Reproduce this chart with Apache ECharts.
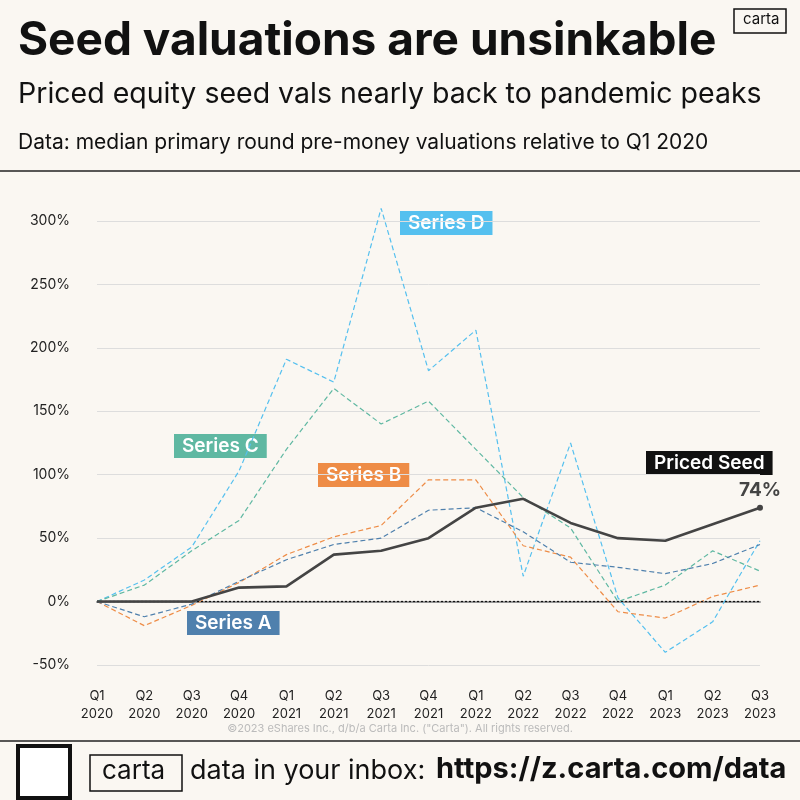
<!DOCTYPE html>
<html><head><meta charset="utf-8">
<script src="https://cdn.jsdelivr.net/npm/echarts@6/dist/echarts.min.js"></script>
<style>body{margin:0;background:#faf7f2}#c{width:800px;height:800px}</style></head>
<body><div id="c"></div>
<script>
const categories = ['Q1\n2020','Q2\n2020','Q3\n2020','Q4\n2020','Q1\n2021','Q2\n2021','Q3\n2021','Q4\n2021','Q1\n2022','Q2\n2022','Q3\n2022','Q4\n2022','Q1\n2023','Q2\n2023','Q3\n2023'];
const pricedSeed = [0,0,0,11,12,37,40,50,74,81,62,50,48,61,74];
const seriesA = [0,-12,-2,16,33,45,50,72,74,55,31,27,22,30,45];
const seriesB = [0,-19,-3,15,37,51,60,96,96,44,35,-8,-13,4,13];
const seriesC = [0,13,40,64,120,168,140,158,120,82,58,0,13,40,24];
const seriesD = [0,17,43,103,191,173,310,182,214,20,125,3,-40,-16,48];
const yTicks = [-50,0,50,100,150,200,250,300];

const chart = echarts.init(document.getElementById('c'));
const F = 'Inter, "Noto Sans", sans-serif';
function dashed(name, data, color){
  return {name, type:'line', data, symbol:'none', z:2, clip:false,
    lineStyle:{color, width:1.2, type:[5,3]}};
}
function tag(text, x, y, bg){
  return {type:'text', left:x, top:y, style:{text, fill:'#fff', backgroundColor:bg,
    font:'600 19px '+F, padding:[3,8,2,8]}};
}
chart.setOption({
  backgroundColor:'#faf7f2',
  animation:false,
  grid:{left:97, right:40, top:221, bottom:135, containLabel:false},
  xAxis:{type:'category', data:categories, boundaryGap:false, offset:14,
    axisLine:{lineStyle:{color:'#999', width:2}}, axisTick:{show:false},
    axisLabel:{color:'#222', fontSize:13, fontFamily:F, lineHeight:18, margin:8}},
  yAxis:{type:'value', min:yTicks[0], max:yTicks[yTicks.length-1], interval:50,
    axisLabel:{color:'#222', fontSize:14, fontFamily:F, formatter:v=>v+'%', margin:27},
    splitLine:{lineStyle:{color:'#ddd'}}, axisLine:{show:false}, axisTick:{show:false}},
  series:[
    dashed('Series D', seriesD, '#55c0ef'),
    dashed('Series C', seriesC, '#5fb8a2'),
    dashed('Series B', seriesB, '#ee8c46'),
    dashed('Series A', seriesA, '#4f80ad'),
    {name:'Priced Seed', type:'line', data:pricedSeed, z:5, clip:false,
      symbol:'circle', symbolSize:(v,p)=>p.dataIndex===pricedSeed.length-1?6:0,
      lineStyle:{color:'#444', width:2.6}, itemStyle:{color:'#444'},
      label:{show:true, position:'top', color:'#444', fontSize:19, fontWeight:'bold', fontFamily:F,
        formatter:p=>p.dataIndex===pricedSeed.length-1?p.value+'%':''},
      markLine:{silent:true, symbol:'none', label:{show:false},
        lineStyle:{color:'#111', type:[2,2], width:1.2}, data:[{yAxis:0}]}}
  ],
  graphic:[
    {type:'text', left:18, top:18, style:{text:'Seed valuations are unsinkable', fill:'#111', font:'bold 46px '+F}},
    {type:'text', left:18, top:80, style:{text:'Priced equity seed vals nearly back to pandemic peaks', fill:'#111', font:'28.5px '+F}},
    {type:'text', left:18, top:132, style:{text:'Data: median primary round pre-money valuations relative to Q1 2020', fill:'#111', font:'21px '+F}},
    {type:'rect', shape:{x:734, y:9, width:52, height:24}, style:{fill:'none', stroke:'#111', lineWidth:1.5}},
    {type:'text', left:743, top:12, style:{text:'carta', fill:'#111', font:'15px '+F}},
    {type:'line', shape:{x1:0,y1:171,x2:800,y2:171}, style:{stroke:'#222', lineWidth:1.5}},
    tag('Series D', 400, 211, '#55c0ef'),
    tag('Series C', 174, 434, '#5fb8a2'),
    tag('Series B', 318, 463, '#ee8c46'),
    tag('Series A', 187, 611, '#4f80ad'),
    tag('Priced Seed', 646, 451, '#111'),
    {type:'text', left:'center', top:723, style:{text:'©2023 eShares Inc., d/b/a Carta Inc. ("Carta"). All rights reserved.', fill:'#bbb', font:'11px '+F}},
    {type:'line', shape:{x1:0,y1:741,x2:800,y2:741}, style:{stroke:'#222', lineWidth:1.5}},
    {type:'rect', shape:{x:18, y:746, width:52, height:52}, style:{fill:'#fff', stroke:'#111', lineWidth:4}},
    {type:'rect', shape:{x:90, y:755, width:92, height:36}, style:{fill:'none', stroke:'#111', lineWidth:1.5}},
    {type:'text', left:102, top:758, style:{text:'carta', fill:'#111', font:'26px '+F}},
    {type:'text', left:190, top:757, style:{text:'data in your inbox:', fill:'#111', font:'27px '+F}},
    {type:'text', left:436, top:755, style:{text:'https://z.carta.com/data', fill:'#111', font:'bold 29px '+F}}
  ]
});
</script></body></html>
